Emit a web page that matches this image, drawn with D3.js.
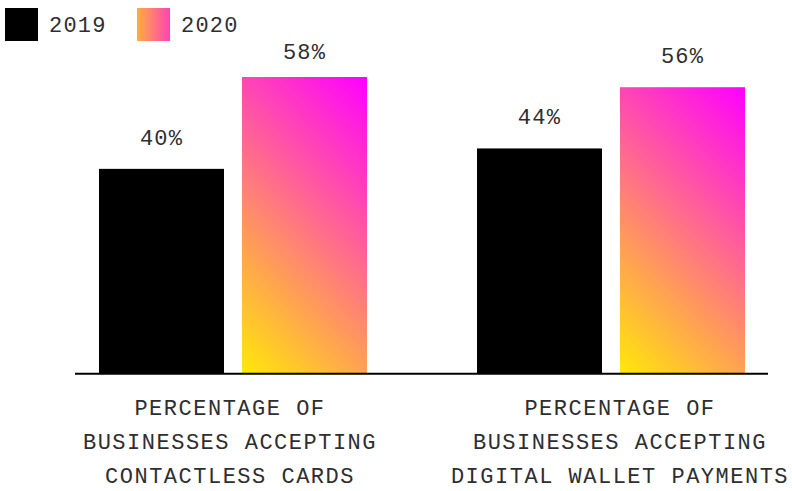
<!DOCTYPE html>
<html>
<head>
<meta charset="utf-8">
<script src="https://cdn.jsdelivr.net/npm/d3@7"></script>
<style>
  html, body { margin: 0; padding: 0; background: #fff; }
  svg { display: block; }
  text { font-family: "Liberation Mono", "DejaVu Sans Mono", monospace; fill: #2e2e2e; }
</style>
</head>
<body>
<svg id="chart" width="792" height="491"></svg>
<script>
const categories = [
  ["PERCENTAGE OF", "BUSINESSES ACCEPTING", "CONTACTLESS CARDS"],
  ["PERCENTAGE OF", "BUSINESSES ACCEPTING", "DIGITAL WALLET PAYMENTS"]
];
const seriesNames = ["2019", "2020"];
const values2019 = [40, 44];
const values2020 = [58, 56];
const valueLabels = [["40%", "58%"], ["44%", "56%"]];

const svg = d3.select("#chart");
const baseY = 373;

const defs = svg.append("defs");
const barGrad = defs.append("linearGradient")
  .attr("id", "barGrad")
  .attr("x1", 0).attr("y1", 1).attr("x2", 0.517).attr("y2", -0.207);
barGrad.append("stop").attr("offset", "0%").attr("stop-color", "#FFE808");
barGrad.append("stop").attr("offset", "100%").attr("stop-color", "#FF00FF");

const legGrad = defs.append("linearGradient")
  .attr("id", "legGrad")
  .attr("x1", 0).attr("y1", 0).attr("x2", 1).attr("y2", 0);
legGrad.append("stop").attr("offset", "0%").attr("stop-color", "#FFAE40");
legGrad.append("stop").attr("offset", "100%").attr("stop-color", "#FF44B4");

const fills = ["#000000", "url(#barGrad)"];

const x0 = d3.scaleBand()
  .domain(d3.range(categories.length))
  .range([75, 769])
  .paddingInner(0.291)
  .paddingOuter(0.0635);

const x1 = d3.scaleBand()
  .domain(seriesNames)
  .range([0, x0.bandwidth()])
  .paddingInner(0.126);

const y = d3.scaleLinear().domain([0, 58]).range([baseY, 77]);

const labelX = d3.scaleBand()
  .domain(d3.range(categories.length))
  .range([35, 815]);

const data = categories.map((c, i) => ({
  i,
  bars: [
    { s: seriesNames[0], v: values2019[i], label: valueLabels[i][0] },
    { s: seriesNames[1], v: values2020[i], label: valueLabels[i][1] }
  ]
}));

const groups = svg.selectAll("g.grp").data(data).enter().append("g")
  .attr("class", "grp")
  .attr("transform", d => `translate(${x0(d.i)},0)`);

groups.selectAll("rect").data(d => d.bars).enter().append("rect")
  .attr("x", d => x1(d.s))
  .attr("y", d => y(d.v))
  .attr("width", x1.bandwidth())
  .attr("height", d => baseY - y(d.v))
  .attr("fill", (d, j) => fills[j]);

groups.selectAll("text.val").data(d => d.bars).enter().append("text")
  .attr("class", "val")
  .attr("x", d => x1(d.s) + x1.bandwidth() / 2)
  .attr("y", d => Math.max(y(d.v) - 24, 59))
  .attr("text-anchor", "middle")
  .attr("font-size", 22)
  .attr("letter-spacing", 1.2)
  .text(d => d.label);

// axis baseline
svg.append("line")
  .attr("x1", 75).attr("x2", 768)
  .attr("y1", baseY + 0.8).attr("y2", baseY + 0.8)
  .attr("stroke", "#000").attr("stroke-width", 2);

// category labels
categories.forEach((lines, i) => {
  const t = svg.append("text")
    .attr("text-anchor", "middle")
    .attr("font-size", 22)
    .attr("letter-spacing", 1.5);
  lines.forEach((ln, k) => {
    t.append("tspan")
      .attr("x", labelX(i) + labelX.bandwidth() / 2)
      .attr("y", 415 + k * 34)
      .text(ln);
  });
});

// legend
const legend = svg.append("g");
const legX = [5, 137];
seriesNames.forEach((s, j) => {
  legend.append("rect")
    .attr("x", legX[j]).attr("y", 8)
    .attr("width", 33).attr("height", 33)
    .attr("fill", j === 0 ? "#000" : "url(#legGrad)");
  legend.append("text")
    .attr("x", legX[j] + 44).attr("y", 32)
    .attr("font-size", 22)
    .attr("letter-spacing", 1.2)
    .text(s);
});
</script>
</body>
</html>
